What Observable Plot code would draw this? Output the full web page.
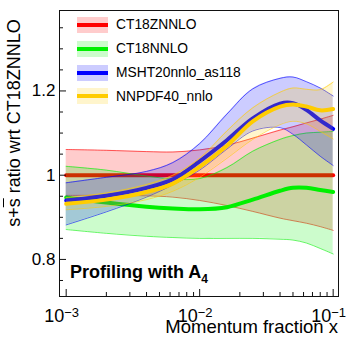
<!DOCTYPE html>
<html><head><meta charset="utf-8">
<script src="https://cdn.jsdelivr.net/npm/d3@7"></script>
<script src="https://cdn.jsdelivr.net/npm/@observablehq/plot@0.6"></script>
<style>
body{margin:0;background:#fff;}
#wrap{position:relative;width:349px;height:349px;overflow:hidden;font-family:"Liberation Sans",Arial,Helvetica,sans-serif;color:#000;}
#wrap svg{position:absolute;left:0;top:0;}
.ov{position:absolute;white-space:nowrap;line-height:1;}
.legend{position:absolute;left:77px;top:13.5px;}
.lrow{display:flex;align-items:center;height:23.7px;}
.sw{position:relative;width:31px;height:16px;}
.sw .ln{position:absolute;left:0;right:0;top:6px;height:4px;}
.lt{margin-left:8px;font-size:13.8px;line-height:1;}
</style></head><body><div id="wrap"></div>
<script>
// ---- data ----
const xValues = [0.001, 0.002, 0.004, 0.0063, 0.01, 0.016, 0.025, 0.04, 0.05, 0.063, 0.08, 0.1];
const ct18zCentral = [1, 1, 1, 1, 1, 1, 1, 1, 1, 1, 1, 1];
const ct18zUpper = [1.061, 1.059, 1.056, 1.055, 1.06, 1.071, 1.088, 1.107, 1.115, 1.124, 1.133, 1.142];
const ct18zLower = [0.952, 0.952, 0.951, 0.948, 0.94, 0.928, 0.914, 0.898, 0.892, 0.886, 0.878, 0.869];
const ct18Central = [0.947, 0.935, 0.925, 0.921, 0.919, 0.924, 0.942, 0.963, 0.97, 0.97, 0.965, 0.96];
const ct18Upper = [1.021, 1.012, 0.998, 0.991, 0.992, 1.018, 1.057, 1.085, 1.094, 1.1, 1.102, 1.104];
const ct18Lower = [0.871, 0.862, 0.855, 0.852, 0.85, 0.85, 0.85, 0.848, 0.846, 0.839, 0.826, 0.813];
const mshtCentral = [0.94, 0.951, 0.97, 0.99, 1.033, 1.083, 1.135, 1.17, 1.171, 1.155, 1.13, 1.11];
const mshtUpper = [0.982, 0.995, 1.009, 1.03, 1.075, 1.145, 1.205, 1.23, 1.233, 1.222, 1.207, 1.188];
const mshtLower = [0.882, 0.913, 0.948, 0.977, 1.012, 1.062, 1.105, 1.113, 1.097, 1.072, 1.045, 1.023];
const nnpdfCentral = [0.932, 0.942, 0.96, 0.98, 1.02, 1.07, 1.128, 1.163, 1.168, 1.163, 1.154, 1.157];
const nnpdfUpper = [0.947, 0.958, 0.978, 1.0, 1.04, 1.105, 1.16, 1.197, 1.207, 1.204, 1.203, 1.221];
const nnpdfLower = [0.918, 0.926, 0.942, 0.962, 0.995, 1.04, 1.085, 1.12, 1.128, 1.122, 1.104, 1.086];

const seriesNames = ["CT18ZNNLO", "CT18NNLO", "MSHT20nnlo_as118", "NNPDF40_nnlo"];
const seriesColors = ["#ff0000", "#00f000", "#0000ff", "#ffcc00"];

const yMajorTicks = [0.8, 1.0, 1.2];
const yMinorTicks = [0.75, 0.85, 0.9, 0.95, 1.05, 1.1, 1.15, 1.25, 1.3, 1.35];
const yTickLabels = ["0.8", "1", "1.2"];
const xMajorTicks = [0.001, 0.01, 0.1];
const xMinorTicks = [0.002, 0.003, 0.004, 0.005, 0.006, 0.007, 0.008, 0.009,
                     0.02, 0.03, 0.04, 0.05, 0.06, 0.07, 0.08, 0.09];
const xTickBase = ["10", "10", "10"];
const xTickExp = ["\u22123", "\u22122", "\u22121"];

// ---- build tables ----
const centrals = [ct18zCentral, ct18Central, mshtCentral, nnpdfCentral];
const uppers = [ct18zUpper, ct18Upper, mshtUpper, nnpdfUpper];
const lowers = [ct18zLower, ct18Lower, mshtLower, nnpdfLower];
const tables = seriesNames.map((name, i) => xValues.map((x, j) => ({
  x, c: centrals[i][j], hi: uppers[i][j], lo: lowers[i][j]
})));

const curve = "catmull-rom";
const marks = [];
tables.forEach((t, i) => {
  const col = seriesColors[i];
  marks.push(Plot.areaY(t, {x: "x", y1: "lo", y2: "hi", fill: col, fillOpacity: 0.2, curve}));
  marks.push(Plot.line(t, {x: "x", y: "hi", stroke: col, strokeOpacity: 0.6, strokeWidth: 1, curve}));
  marks.push(Plot.line(t, {x: "x", y: "lo", stroke: col, strokeOpacity: 0.6, strokeWidth: 1, curve}));
  marks.push(Plot.line(t, {x: "x", y: "c", stroke: col, strokeWidth: 4, curve}));
});

marks.push(
  Plot.frame({stroke: "#111", strokeWidth: 1}),
  Plot.axisY(yMajorTicks, {anchor: "left", tickSize: -7, tickFormat: () => "", label: null, stroke: "#111"}),
  Plot.axisY(yMinorTicks, {anchor: "left", tickSize: -4, tickFormat: () => "", label: null, stroke: "#111"}),
  Plot.axisX(xMajorTicks, {anchor: "bottom", tickSize: -7, tickFormat: () => "", label: null, stroke: "#111"}),
  Plot.axisX(xMinorTicks, {anchor: "bottom", tickSize: -4, tickFormat: () => "", label: null, stroke: "#111"}),
  Plot.text(yMajorTicks, {y: d => d, text: (d, i) => yTickLabels[i], frameAnchor: "left", textAnchor: "end", dx: -4, fontSize: 17, fill: "#000"}),
  Plot.text(xMajorTicks, {x: d => d, text: (d, i) => xTickBase[i], frameAnchor: "bottom", textAnchor: "end", lineAnchor: "bottom", dx: -2, dy: 25, fontSize: 18, fill: "#000"}),
  Plot.text(xMajorTicks, {x: d => d, text: (d, i) => xTickExp[i], frameAnchor: "bottom", textAnchor: "start", lineAnchor: "bottom", dx: -2, dy: 20, fontSize: 13, fill: "#000"})
);

const chart = Plot.plot({
  width: 349, height: 349,
  marginTop: 10, marginBottom: 53, marginLeft: 59, marginRight: 11,
  x: {type: "log", domain: [Math.pow(10, -3.05), Math.pow(10, -0.96)]},
  y: {domain: [0.712, 1.391]},
  style: {fontFamily: '"Liberation Sans", Arial, Helvetica, sans-serif', background: "white", overflow: "visible"},
  marks
});

const wrap = document.getElementById("wrap");
wrap.appendChild(chart);

// legend
const leg = document.createElement("div");
leg.className = "legend";
seriesNames.forEach((name, i) => {
  const row = document.createElement("div");
  row.className = "lrow";
  const sw = document.createElement("div");
  sw.className = "sw";
  sw.style.background = d3.color(seriesColors[i]).copy({opacity: 0.2}).formatRgb();
  const ln = document.createElement("div");
  ln.className = "ln";
  ln.style.background = seriesColors[i];
  sw.appendChild(ln);
  const tx = document.createElement("div");
  tx.className = "lt";
  tx.textContent = name;
  row.appendChild(sw);
  row.appendChild(tx);
  leg.appendChild(row);
});
wrap.appendChild(leg);

// y title
const yt = document.createElement("div");
yt.className = "ov";
yt.style.cssText += "left:14px;top:122.5px;font-size:18px;transform:translate(-50%,-50%) rotate(-90deg);";
yt.innerHTML = 's+<span style="text-decoration:overline">s</span> ratio wrt CT18ZNNLO';
wrap.appendChild(yt);

// x title
const xt = document.createElement("div");
xt.className = "ov";
xt.style.cssText += "right:11px;top:318px;font-size:18.5px;";
xt.textContent = "Momentum fraction x";
wrap.appendChild(xt);

// annotation
const an = document.createElement("div");
an.className = "ov";
an.style.cssText += "left:70px;top:263px;font-size:18px;font-weight:bold;";
an.innerHTML = 'Profiling with A<span style="font-size:12px;position:relative;top:5px;">4</span>';
wrap.appendChild(an);
</script>
</body></html>
